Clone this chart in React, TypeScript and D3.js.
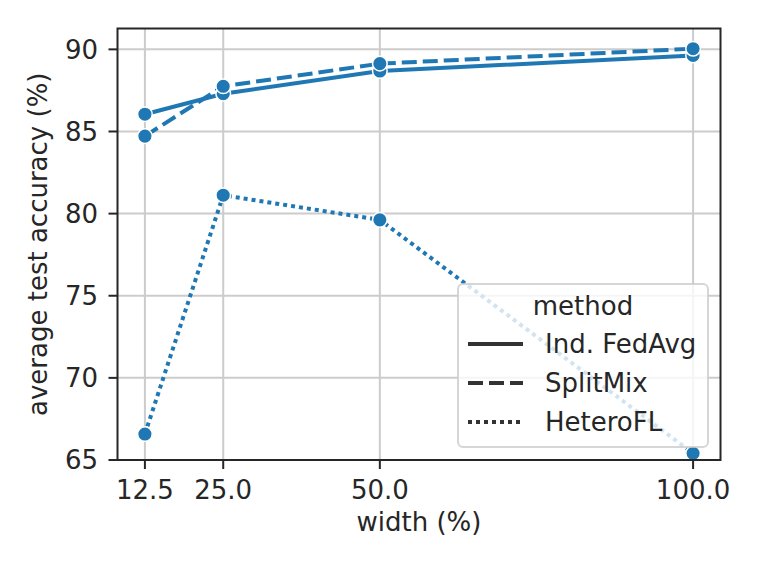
import React from 'react';
import * as d3 from 'd3';

// widths (%) on the x axis
const widths = [12.5, 25, 50, 100];
const xTickLabels = ['12.5', '25.0', '50.0', '100.0'];

// average test accuracy per method
const fedAvg = [86.05, 87.3, 88.68, 89.63];
const splitMix = [84.72, 87.75, 89.13, 90.04];
const heteroFL = [66.58, 81.12, 79.62, 65.41];

const methodNames = ['Ind. FedAvg', 'SplitMix', 'HeteroFL'];
const yTicks = [65, 70, 75, 80, 85, 90];

const W = 761;
const H = 571;
const plot = { left: 117.5, right: 720.5, top: 28.5, bottom: 460 };
const BLUE = '#1f77b4';
const TEXT = '#262626';
const FONT = 'DejaVu Sans, sans-serif';
const FS = 26;

const dashFor = ['', '15,6', '4,4'];

const App: React.FC = () => {
  const x = d3.scaleLinear().domain([8.125, 104.375]).range([plot.left, plot.right]);
  const y = d3.scaleLinear().domain([65, 91.27]).range([plot.bottom, plot.top]);

  const series = [fedAvg, splitMix, heteroFL];
  const line = d3
    .line<number>()
    .x((_, i) => x(widths[i]))
    .y(d => y(d));

  const legend = { x: 458, y: 284, w: 250, h: 163 };

  return (
    <svg
      width={W}
      height={H}
      style={{ position: 'absolute', left: 0, top: 0, background: '#fff' }}
      fontFamily={FONT}
    >
      {/* grid */}
      {widths.map(w => (
        <line key={'gx' + w} x1={x(w)} x2={x(w)} y1={plot.top} y2={plot.bottom} stroke="#cccccc" strokeWidth={2} />
      ))}
      {yTicks.map(t => (
        <line key={'gy' + t} x1={plot.left} x2={plot.right} y1={y(t)} y2={y(t)} stroke="#cccccc" strokeWidth={2} />
      ))}

      {/* series lines */}
      {series.map((s, k) => (
        <path
          key={'l' + k}
          d={line(s) ?? ''}
          fill="none"
          stroke={BLUE}
          strokeWidth={4}
          strokeDasharray={dashFor[k] || undefined}
        />
      ))}
      {/* markers */}
      {series.map((s, k) =>
        s.map((v, i) => (
          <circle key={`m${k}-${i}`} cx={x(widths[i])} cy={y(v)} r={7.3} fill={BLUE} stroke="#fff" strokeWidth={1.5} />
        ))
      )}

      {/* spines */}
      <rect
        x={plot.left}
        y={plot.top}
        width={plot.right - plot.left}
        height={plot.bottom - plot.top}
        fill="none"
        stroke={TEXT}
        strokeWidth={2}
      />

      {/* x ticks */}
      {widths.map((w, i) => (
        <g key={'xt' + w}>
          <line x1={x(w)} x2={x(w)} y1={plot.bottom} y2={plot.bottom + 9} stroke={TEXT} strokeWidth={2} />
          <text x={x(w)} y={499} textAnchor="middle" fontSize={FS} fill={TEXT}>
            {xTickLabels[i]}
          </text>
        </g>
      ))}
      {/* y ticks */}
      {yTicks.map(t => (
        <g key={'yt' + t}>
          <line x1={plot.left - 9} x2={plot.left} y1={y(t)} y2={y(t)} stroke={TEXT} strokeWidth={2} />
          <text x={98} y={y(t)} dy="0.36em" textAnchor="end" fontSize={FS} fill={TEXT}>
            {t}
          </text>
        </g>
      ))}

      {/* axis labels */}
      <text x={(plot.left + plot.right) / 2} y={531} textAnchor="middle" fontSize={FS} fill={TEXT}>
        width (%)
      </text>
      <text
        transform={`translate(47, ${(plot.top + plot.bottom) / 2}) rotate(-90)`}
        textAnchor="middle"
        fontSize={FS}
        fill={TEXT}
      >
        average test accuracy (%)
      </text>

      {/* legend */}
      <rect
        x={legend.x}
        y={legend.y}
        width={legend.w}
        height={legend.h}
        rx={5}
        fill="#fff"
        fillOpacity={0.8}
        stroke="#cccccc"
        strokeOpacity={0.8}
        strokeWidth={2}
      />
      <text x={583} y={315} textAnchor="middle" fontSize={FS} fill={TEXT}>
        method
      </text>
      {methodNames.map((name, k) => (
        <g key={'lg' + k}>
          <line
            x1={468}
            x2={523}
            y1={344 + k * 39}
            y2={344 + k * 39}
            stroke="#333333"
            strokeWidth={4}
            strokeDasharray={dashFor[k] || undefined}
          />
          <text x={545} y={353 + k * 39} fontSize={FS} fill={TEXT}>
            {name}
          </text>
        </g>
      ))}
    </svg>
  );
};

export default App;
